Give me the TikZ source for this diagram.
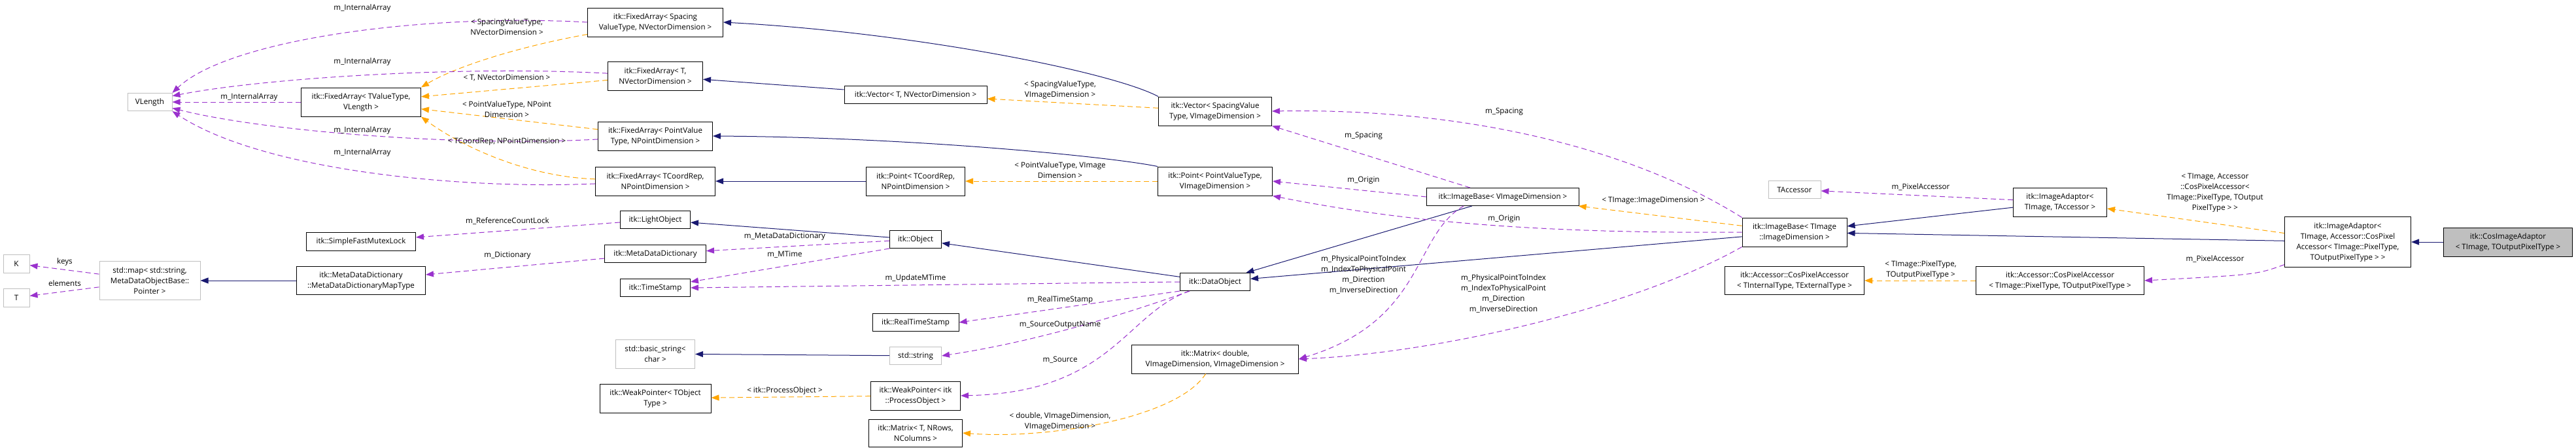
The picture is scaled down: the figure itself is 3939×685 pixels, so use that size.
\documentclass[tikz,border=0pt]{standalone}
\usepackage{fontspec}
\setmainfont{Open Sans}
\usetikzlibrary{arrows.meta}
\definecolor{inhcol}{HTML}{191970}
\definecolor{usecol}{HTML}{9A32CD}
\definecolor{tplcol}{HTML}{FFA500}
\definecolor{extcol}{HTML}{BFBFBF}
\begin{document}
\begin{tikzpicture}[x=0.5pt,y=-0.5pt,
  every node/.style={font=\fontsize{5.8}{8}\selectfont, inner sep=0pt, align=center},
  cls/.style 2 args={draw=black, line width=0.5pt, fill=white, minimum width=#1*0.5pt, minimum height=#2*0.5pt},
  ext/.style 2 args={cls={#1}{#2}, draw=extcol},
  inh/.style={draw=inhcol, line width=0.5pt, -{Triangle[length=6pt,width=4.5pt]}},
  use/.style={draw=usecol, line width=0.5pt, dash pattern=on 4pt off 2.5pt, -{Triangle[length=6pt,width=4.5pt]}},
  tpl/.style={draw=tplcol, line width=0.5pt, dash pattern=on 4pt off 2.5pt, -{Triangle[length=6pt,width=4.5pt]}}]
\useasboundingbox (0,0) rectangle (3939,685);
\node[cls={197}{44}, fill=extcol] (cosad) at (3835,370) {itk::CosImageAdaptor\\< TImage, TOutputPixelType >};
\node[cls={193}{77}] (adcos) at (3590,370) {itk::ImageAdaptor<\\TImage, Accessor::CosPixel\\Accessor< TImage::PixelType,\\TOutputPixelType > >};
\node[cls={143}{44}] (adacc) at (3150,309) {itk::ImageAdaptor<\\TImage, TAccessor >};
\node[cls={257}{43}] (cpaimg) at (3150,429) {itk::Accessor::CosPixelAccessor\\< TImage::PixelType, TOutputPixelType >};
\node[ext={80}{27}] (tacc) at (2744,290) {TAccessor};
\node[cls={160}{44}] (baseti) at (2744,355) {itk::ImageBase< TImage\\::ImageDimension >};
\node[cls={213}{43}] (cpagen) at (2744,429) {itk::Accessor::CosPixelAccessor\\< TInternalType, TExternalType >};
\node[cls={233}{27}] (basevi) at (2298,301) {itk::ImageBase< VImageDimension >};
\node[cls={173}{44}] (vecsp) at (1858,170) {itk::Vector< SpacingValue\\Type, VImageDimension >};
\node[cls={175}{44}] (ptpv) at (1858,277) {itk::Point< PointValueType,\\VImageDimension >};
\node[cls={107}{27}] (dobj) at (1858,431) {itk::DataObject};
\node[cls={255}{44}] (mtxd) at (1858,549) {itk::Matrix< double,\\VImageDimension, VImageDimension >};
\node[cls={218}{27}] (vect) at (1400,145) {itk::Vector< T, NVectorDimension >};
\node[cls={151}{44}] (ptcr) at (1400,277) {itk::Point< TCoordRep,\\NPointDimension >};
\node[cls={79}{27}] (obj) at (1400,366) {itk::Object};
\node[cls={132}{27}] (rts) at (1400,493) {itk::RealTimeStamp};
\node[ext={79}{27}] (str) at (1400,544) {std::string};
\node[cls={137}{44}] (wppo) at (1400,605) {itk::WeakPointer< itk\\::ProcessObject >};
\node[cls={143}{42}] (mtxt) at (1400,662) {itk::Matrix< T, NRows,\\NColumns >};
\node[cls={207}{44}] (fasp) at (1002,34) {itk::FixedArray< Spacing\\ValueType, NVectorDimension >};
\node[cls={145}{44}] (fat) at (1002,116) {itk::FixedArray< T,\\NVectorDimension >};
\node[cls={175}{44}] (fapv) at (1002,208) {itk::FixedArray< PointValue\\Type, NPointDimension >};
\node[cls={183}{44}] (facr) at (1002,277) {itk::FixedArray< TCoordRep,\\NPointDimension >};
\node[cls={107}{27}] (lobj) at (1002,336) {itk::LightObject};
\node[cls={155}{27}] (mdd) at (1002,388) {itk::MetaDataDictionary};
\node[cls={107}{27}] (ts) at (1002,440) {itk::TimeStamp};
\node[ext={121}{44}] (bstr) at (1002,541) {std::basic\_string<\\char >};
\node[cls={170}{44}] (wpto) at (1002,609) {itk::WeakPointer< TObject\\Type >};
\node[cls={183}{44}] (fatv) at (552,156) {itk::FixedArray< TValueType,\\VLength >};
\node[cls={167}{28}] (mutex) at (552,369) {itk::SimpleFastMutexLock};
\node[cls={197}{43}] (mddmt) at (552,429) {itk::MetaDataDictionary\\::MetaDataDictionaryMapType};
\node[ext={68}{27}] (vlen) at (229,156) {VLength};
\node[ext={154}{59}] (smap) at (229,429) {std::map< std::string,\\MetaDataObjectBase::\\Pointer >};
\node[ext={40}{28}] (kk) at (25,403) {K};
\node[ext={40}{28}] (tt) at (25,455) {T};
\draw[inh] (cosad) -- (adcos);
\draw[inh] (adcos) -- (baseti);
\draw[inh] (adacc) -- (baseti);
\draw[inh] (baseti) -- (dobj);
\draw[inh] (basevi) -- (dobj);
\draw[inh] (dobj) -- (obj);
\draw[inh] (obj) -- (lobj);
\draw[inh] (str) -- (bstr);
\draw[inh] (mddmt) -- (smap);
\draw[inh] (vect) -- (fat);
\draw[inh] (ptcr) -- (facr);
\draw[inh] (vecsp.north west) .. controls (1700,110) and (1400,50) .. (fasp.east);
\draw[inh] (ptpv.north west) .. controls (1700,240) and (1400,210) .. (fapv.east);
\draw[tpl] (adcos) -- (adacc);
\draw[tpl] (cpaimg) -- (cpagen);
\draw[tpl] (baseti) -- (basevi);
\draw[tpl] (vecsp) -- (vect);
\draw[tpl] (ptpv) -- (ptcr);
\draw[tpl] (wppo) -- (wpto);
\draw[tpl] (mtxd) .. controls (1800,640) and (1600,672) .. (mtxt.east);
\draw[tpl] (fasp) .. controls (800,70) and (700,100) .. (fatv.north east);
\draw[tpl] (fat) -- (fatv);
\draw[tpl] (fapv) -- (fatv);
\draw[tpl] (facr) .. controls (800,270) and (700,220) .. (fatv.south east);
\draw[use] (adcos) .. controls (3450,420) .. (cpaimg.east);
\draw[use] (adacc) -- (tacc);
\draw[use] (baseti.north west) .. controls (2500,230) and (2250,165) .. (vecsp.east);
\draw[use] (baseti.west) .. controls (2300,358) and (2100,330) .. (ptpv.south east);
\draw[use] (baseti.south west) .. controls (2500,470) and (2200,540) .. (mtxd.east);
\draw[use] ([xshift=-25pt]basevi.north) -- (vecsp.south east);
\draw[use] (basevi.west) -- (ptpv.east);
\draw[use] ([xshift=-30pt]basevi.south) .. controls (2160,360) and (2180,490) .. (mtxd.east);
\draw[use] (dobj.west) -- (ts.east);
\draw[use] (dobj.south west) -- (rts.east);
\draw[use] (dobj) .. controls (1750,470) and (1600,520) .. (str.east);
\draw[use] (dobj) .. controls (1720,480) and (1700,600) .. (wppo.east);
\draw[use] (obj) -- (mdd);
\draw[use] (obj.south west) -- (ts);
\draw[use] (lobj) -- (mutex);
\draw[use] (mdd) -- (mddmt);
\draw[use] (smap) -- (kk);
\draw[use] (smap) -- (tt);
\draw[use] (fasp.west) .. controls (650,20) and (350,60) .. (vlen.north east);
\draw[use] (fat) .. controls (700,100) and (400,120) .. (vlen.15);
\draw[use] (fatv) -- (vlen);
\draw[use] (fapv) .. controls (700,225) and (400,200) .. (vlen.-15);
\draw[use] (facr) .. controls (700,290) and (400,260) .. (vlen.south east);
\node (l1) at (3387,295) {< TImage, Accessor\\::CosPixelAccessor<\\TImage::PixelType, TOutput\\PixelType > >};
\node (l2) at (3387,396) {m\_PixelAccessor};
\node (l3) at (2937,286) {m\_PixelAccessor};
\node (l4) at (2937,412) {< TImage::PixelType,\\TOutputPixelType >};
\node (l5) at (2528,307) {< TImage::ImageDimension >};
\node (l6) at (2300,171) {m\_Spacing};
\node (l7) at (2300,335) {m\_Origin};
\node (l8) at (2299,449) {m\_PhysicalPointToIndex\\m\_IndexToPhysicalPoint\\m\_Direction\\m\_InverseDirection};
\node (l9) at (2085,208) {m\_Spacing};
\node (l10) at (2085,276) {m\_Origin};
\node (l11) at (2085,420) {m\_PhysicalPointToIndex\\m\_IndexToPhysicalPoint\\m\_Direction\\m\_InverseDirection};
\node (l12) at (1621,137) {< SpacingValueType,\\VImageDimension >};
\node (l13) at (1621,260) {< PointValueType, VImage\\Dimension >};
\node (l14) at (1400,425) {m\_UpdateMTime};
\node (l15) at (1621,458) {m\_RealTimeStamp};
\node (l16) at (1621,497) {m\_SourceOutputName};
\node (l17) at (1621,550) {m\_Source};
\node (l18) at (1621,644) {< double, VImageDimension,\\VImageDimension >};
\node (l19) at (1200,362) {m\_MetaDataDictionary};
\node (l20) at (1200,389) {m\_MTime};
\node (l21) at (1200,597) {< itk::ProcessObject >};
\node (l22) at (775,41) {< SpacingValueType,\\NVectorDimension >};
\node (l23) at (775,119) {< T, NVectorDimension >};
\node (l24) at (775,167) {< PointValueType, NPoint\\Dimension >};
\node (l25) at (775,216) {< TCoordRep, NPointDimension >};
\node (l26) at (776,338) {m\_ReferenceCountLock};
\node (l27) at (776,391) {m\_Dictionary};
\node (l28) at (554,12) {m\_InternalArray};
\node (l29) at (554,94) {m\_InternalArray};
\node (l30) at (381,148) {m\_InternalArray};
\node (l31) at (554,199) {m\_InternalArray};
\node (l32) at (554,233) {m\_InternalArray};
\node (l33) at (99,400) {keys};
\node (l34) at (99,433) {elements};
\end{tikzpicture}
\end{document}
